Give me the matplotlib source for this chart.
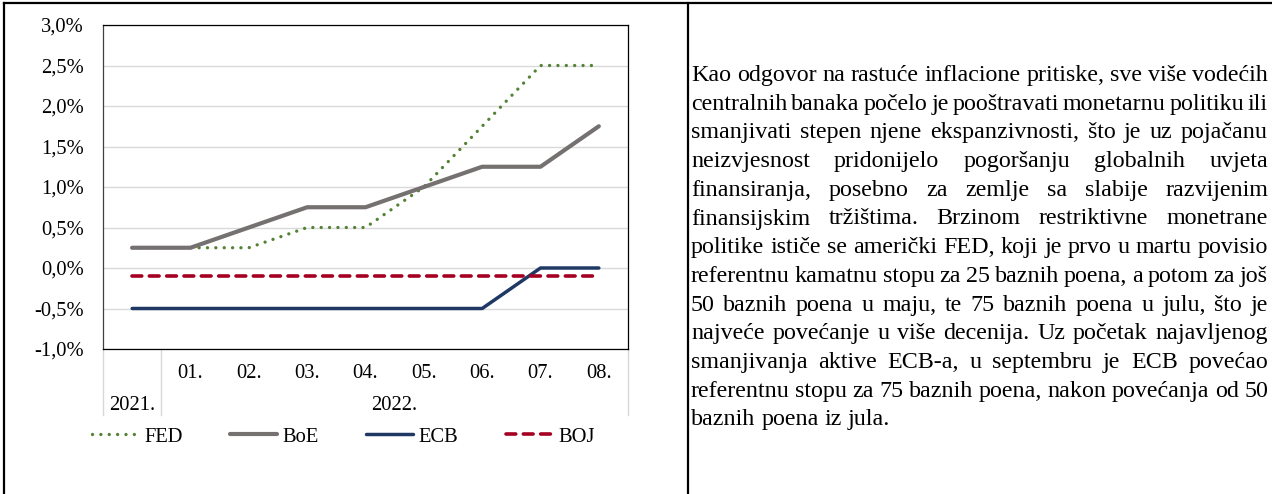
import matplotlib
matplotlib.use("Agg")
import matplotlib.pyplot as plt
import matplotlib.transforms as mtransforms
from matplotlib.lines import Line2D
import numpy as np

# ---------------- data ----------------
months = ["", "01.", "02.", "03.", "04.", "05.", "06.", "07.", "08."]
years = ["2021.", "2022."]
fed = [0.25, 0.25, 0.25, 0.50, 0.50, 1.00, 1.75, 2.50, 2.50]
boe = [0.25, 0.25, 0.50, 0.75, 0.75, 1.00, 1.25, 1.25, 1.75]
ecb = [-0.50, -0.50, -0.50, -0.50, -0.50, -0.50, -0.50, 0.00, 0.00]
boj = [-0.10, -0.10, -0.10, -0.10, -0.10, -0.10, -0.10, -0.10, -0.10]
series_names = ["FED", "BoE", "ECB", "BOJ"]
yticks = [-1.0, -0.5, 0.0, 0.5, 1.0, 1.5, 2.0, 2.5, 3.0]

paragraph = [
    "Kao odgovor na rastuće inflacione pritiske, sve više vodećih",
    "centralnih banaka počelo je pooštravati monetarnu politiku ili",
    "smanjivati stepen njene ekspanzivnosti, što je uz pojačanu",
    "neizvjesnost pridonijelo pogoršanju globalnih uvjeta",
    "finansiranja, posebno za zemlje sa slabije razvijenim",
    "finansijskim tržištima. Brzinom restriktivne monetrane",
    "politike ističe se američki FED, koji je prvo u martu povisio",
    "referentnu kamatnu stopu za 25 baznih poena, a potom za još",
    "50 baznih poena u maju, te 75 baznih poena u julu, što je",
    "najveće povećanje u više decenija. Uz početak najavljenog",
    "smanjivanja aktive ECB-a, u septembru je ECB povećao",
    "referentnu stopu za 75 baznih poena, nakon povećanja od 50",
    "baznih poena iz jula.",
]

# ---------------- figure ----------------
W, H = 1272, 494
DPI = 100
SERIF = ["Liberation Serif", "DejaVu Serif"]
plt.rcParams["font.family"] = SERIF
fig = plt.figure(figsize=(W / DPI, H / DPI), dpi=DPI)
CHART_FS = 14.8

def fx(px):
    return px / W

def fy(py):
    return 1 - py / H

ax_l, ax_r, ax_t, ax_b = 103, 628, 25, 349
ax = fig.add_axes([fx(ax_l), fy(ax_b), fx(ax_r - ax_l), (ax_b - ax_t) / H])

x = np.arange(len(months))
ax.plot(x, fed, color="#548235", lw=2.4, linestyle=(0, (0.01, 2.5)),
        dash_capstyle="round", label=series_names[0], zorder=3)
ax.plot(x, boe, color="#767171", lw=3.0, solid_capstyle="round",
        solid_joinstyle="round", label=series_names[1], zorder=4)
ax.plot(x, ecb, color="#1f3864", lw=2.5, solid_capstyle="round",
        solid_joinstyle="round", label=series_names[2], zorder=4)
ax.plot(x, boj, color="#a50021", lw=2.6, linestyle=(0, (2.7, 2.1)),
        dash_capstyle="round", label=series_names[3], zorder=5)

ax.set_xlim(-0.5, len(months) - 0.5)
ax.set_ylim(-1.0, 3.0)
ax.set_yticks(yticks)
ax.set_yticklabels([f"{v:.1f}%".replace(".", ",") for v in yticks])
ax.set_xticks(x)
ax.set_xticklabels(months)
ax.tick_params(axis="both", length=0, labelsize=CHART_FS)
ax.tick_params(axis="y", pad=14)
ax.tick_params(axis="x", pad=11)
ax.grid(axis="y", color="#d9d9d9", lw=1.0)
ax.set_axisbelow(True)
for s in ax.spines.values():
    s.set_color("#000000")
    s.set_linewidth(0.9)
ax.spines["left"].set_color("#404040")

# category separators and second level labels
trans = mtransforms.blended_transform_factory(ax.transData, ax.transAxes)
sep_depth = (415 - ax_b) / (ax_b - ax_t)
for xs in [-0.5, 0.5, len(months) - 0.5]:
    ax.add_line(Line2D([xs, xs], [0, -sep_depth], transform=trans,
                       color="#d9d9d9", lw=1.0, clip_on=False))
year_y = -(406 - ax_b) / (ax_b - ax_t)
ax.text(0, year_y, years[0], transform=trans, ha="center", va="center",
        fontsize=CHART_FS)
ax.text((1 + len(months) - 1) / 2, year_y, years[1], transform=trans,
        ha="center", va="center", fontsize=CHART_FS)

# legend
fig.legend(loc="center left", bbox_to_anchor=(fx(92), fy(437)), ncol=4,
           frameon=False, fontsize=CHART_FS, handlelength=2.3,
           handletextpad=0.25, columnspacing=2.3, borderpad=0,
           borderaxespad=0)

# outer table frame
for (xs, ys) in [([4, W], [3, 3]), ([4, 4], [3, H]), ([688, 688], [3, H])]:
    fig.add_artist(Line2D([fx(v) for v in xs], [fy(v) for v in ys],
                          transform=fig.transFigure, color="black", lw=1.6))

# justified paragraph
fig.canvas.draw()
renderer = fig.canvas.get_renderer()
txt_l, txt_r = 691, 1268

def width_of(s, fs):
    t = fig.text(0, 0, s, fontsize=fs)
    w = t.get_window_extent(renderer).width
    t.remove()
    return w

ref_fs = 15.0
scale = (txt_r - txt_l) / width_of(paragraph[6], ref_fs)
body_fs = ref_fs * scale

base0, spacing = 81, 28.7
for i, line in enumerate(paragraph):
    words = line.split(" ")
    ws = [width_of(w, body_fs) for w in words]
    yb = base0 + i * spacing
    if i < len(paragraph) - 1 and len(words) > 1:
        gap = (txt_r - txt_l - sum(ws)) / (len(words) - 1)
    else:
        gap = width_of("a b", body_fs) - width_of("ab", body_fs)
    xc = txt_l
    for w, wd in zip(words, ws):
        fig.text(fx(xc), fy(yb), w, fontsize=body_fs, ha="left",
                 va="baseline")
        xc += wd + gap

fig.savefig("out.png", dpi=DPI)
